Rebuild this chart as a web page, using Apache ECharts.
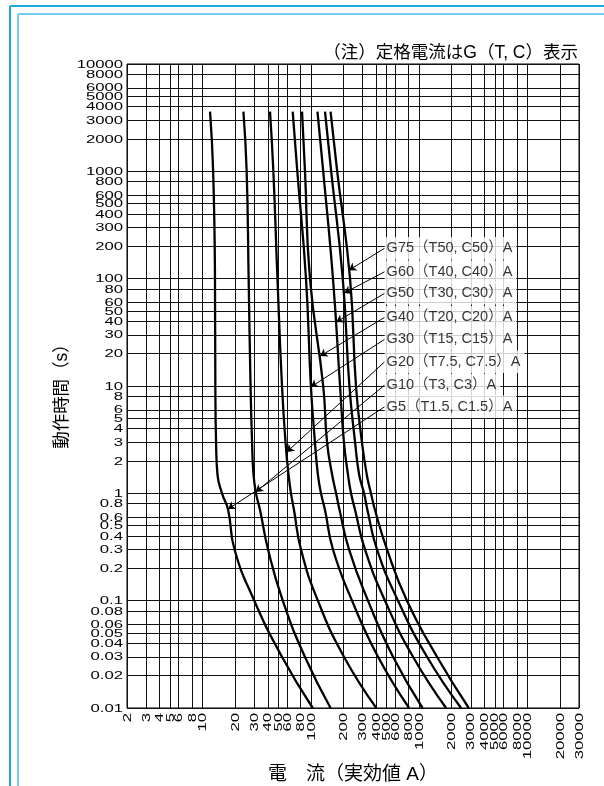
<!DOCTYPE html>
<html>
<head>
<meta charset="utf-8">
<script src="https://cdn.jsdelivr.net/npm/echarts@6/dist/echarts.min.js"></script>
<style>
  html, body { margin: 0; padding: 0; background: #fff; }
  #main { width: 604px; height: 786px; }
</style>
</head>
<body>
<div id="main"></div>
<script>
// Fuse time-current characteristics (log-log)

// Tick labels
const xTickLabels = ['2','3','4','5','6','8','10','20','30','40','50','60','80','100',
  '200','300','400','500','600','800','1000','2000','3000','4000','5000','6000','8000','10000',
  '20000','30000'];
const yTickLabels = ['0.01','0.02','0.03','0.04','0.05','0.06','0.08','0.1','0.2','0.3','0.4',
  '0.5','0.6','0.8','1','2','3','4','5','6','8','10','20','30','40','50','60','80','100',
  '200','300','400','500','600','800','1000','2000','3000','4000','5000','6000','8000','10000'];

// Operating time (s) at which each curve's current is given
const times = [3600, 1000, 100, 10, 3, 1.5, 1, 0.7, 0.3, 0.1, 0.03, 0.01];

// Current (A, rms) per fuse rating at the times above
const g5  = [11.7, 12.5, 13.0, 13.1, 13.3, 13.7, 15.1, 17.2, 19.7, 30, 54, 104];
const g10 = [23.8, 25.5, 26.6, 27.7, 28.6, 29.5, 31.1, 33.9, 40.2, 55, 88, 152];
const g20 = [41.9, 45.0, 49.1, 54.1, 58.3, 62.1, 65.5, 69.8, 81, 116, 202, 402];
const g30 = [67.9, 74.9, 90.1, 100, 109, 116, 124, 135, 160, 240, 417, 808];
const g40 = [82.8, 88.2, 98.1, 130, 141, 157, 171, 184, 225, 337, 574, 1076];
const g50 = [115, 130, 160, 186, 202, 220, 235, 256, 316, 484, 878, 1775];
const g60 = [135, 154, 197, 227, 256, 279, 310, 333, 408, 638, 1182, 2442];
const g75 = [152, 175, 230, 261, 296, 328, 359, 391, 505, 772, 1462, 2876];

// Curve annotations (top to bottom)
const ratingLabels = ['G75（T50, C50）A', 'G60（T40, C40）A', 'G50（T30, C30）A', 'G40（T20, C20）A',
  'G30（T15, C15）A', 'G20（T7.5, C7.5）A', 'G10（T3, C3）A', 'G5（T1.5, C1.5）A'];
const labelCurrent = 480;
const labelTimes = [192, 116, 73, 43.6, 27.2, 16.8, 10.2, 6.4];
const tipCurrents = [225, 203, 172, 122, 100, 60, 31, 17.2];
const tipTimes = [120, 73.5, 39.5, 19, 9.8, 2.43, 1.03, 0.714];

const curves = [g5, g10, g20, g30, g40, g50, g60, g75];
const curveNames = ['G5', 'G10', 'G20', 'G30', 'G40', 'G50', 'G60', 'G75'];

const NUM_FONT = '11.5px "Liberation Sans", Arial, sans-serif';
const TEXT_FONT = '"Liberation Sans", "Noto Sans CJK JP", sans-serif';
const X_MIN = 2, X_MAX = 30000, Y_MIN = 0.01, Y_MAX = 10000;

const chart = echarts.init(document.getElementById('main'), null, { renderer: 'canvas' });

const curveSeries = curves.map((vals, k) => ({
  name: curveNames[k],
  type: 'line',
  data: vals.map((c, i) => [c, times[i]]),
  showSymbol: false,
  smooth: 0.5,
  lineStyle: { color: '#000', width: 2.3 },
  z: 3,
  silent: true
}));

const option = {
  animation: false,
  backgroundColor: '#fff',
  grid: { left: 127, top: 64, width: 452, height: 644, show: true,
          borderColor: '#000', borderWidth: 1, backgroundColor: 'transparent' },
  xAxis: {
    type: 'log', logBase: 10, min: X_MIN, max: X_MAX,
    axisLine: { show: false },
    axisTick: { show: false, customValues: xTickLabels.map(Number) },
    axisLabel: { show: false, customValues: xTickLabels.map(Number) },
    splitLine: { show: true, lineStyle: { color: '#111', width: 1 } },
    minorSplitLine: { show: false }
  },
  yAxis: {
    type: 'log', logBase: 10, min: Y_MIN, max: Y_MAX,
    axisLine: { show: false },
    axisTick: { show: false, customValues: yTickLabels.map(Number) },
    axisLabel: { show: false, customValues: yTickLabels.map(Number) },
    splitLine: { show: true, lineStyle: { color: '#111', width: 1 } },
    minorSplitLine: { show: false }
  },
  series: [
    ...curveSeries,
    {
      type: 'lines',
      coordinateSystem: 'cartesian2d',
      data: labelTimes.map((t, i) => ({ coords: [[labelCurrent, t], [tipCurrents[i], tipTimes[i]]] })),
      symbol: ['none', 'arrow'],
      symbolSize: 7,
      lineStyle: { color: '#000', width: 1, opacity: 1, curveness: 0 },
      z: 4,
      silent: true
    },
    {
      type: 'scatter',
      data: labelTimes.map((t, i) => [labelCurrent, t, ratingLabels[i]]),
      symbolSize: 0,
      label: {
        show: true, position: 'right', distance: 0,
        formatter: p => p.data[2],
        color: '#000', fontSize: 14.5, fontFamily: TEXT_FONT,
        backgroundColor: '#fff', padding: [4, 4, 4, 2]
      },
      z: 5,
      silent: true
    },
    {
      // y tick labels
      type: 'custom',
      clip: false,
      silent: true,
      data: yTickLabels.map(s => [X_MIN, Number(s)]),
      renderItem: (params, api) => {
        const p = api.coord([api.value(0), api.value(1)]);
        return {
          type: 'text', x: p[0] - 4, y: p[1] + 0.5, scaleX: 1.45,
          style: { text: yTickLabels[params.dataIndex], font: NUM_FONT,
                   align: 'right', verticalAlign: 'middle', fill: '#000' }
        };
      }
    },
    {
      // x tick labels, rotated
      type: 'custom',
      clip: false,
      silent: true,
      data: xTickLabels.map(s => [Number(s), Y_MIN]),
      renderItem: (params, api) => {
        const p = api.coord([api.value(0), api.value(1)]);
        return {
          type: 'text', x: p[0] + 0.5, y: p[1] + 5, rotation: Math.PI / 2, scaleX: 1.45,
          style: { text: xTickLabels[params.dataIndex], font: NUM_FONT,
                   align: 'right', verticalAlign: 'middle', fill: '#000' }
        };
      }
    }
  ],
  graphic: [
    { type: 'line', silent: true, shape: { x1: 10, y1: 6, x2: 604, y2: 6 },
      style: { stroke: '#1ea8e0', lineWidth: 2 } },
    { type: 'line', silent: true, shape: { x1: 10, y1: 6, x2: 10, y2: 786 },
      style: { stroke: '#1ea8e0', lineWidth: 2 } },
    { type: 'line', silent: true, shape: { x1: 18, y1: 14, x2: 604, y2: 14 },
      style: { stroke: '#74cdf2', lineWidth: 2 } },
    { type: 'line', silent: true, shape: { x1: 18, y1: 14, x2: 18, y2: 786 },
      style: { stroke: '#74cdf2', lineWidth: 2 } },
    { type: 'text', silent: true, x: 578, y: 53,
      style: { text: '（注）定格電流はG（T, C）表示', font: '17.5px ' + TEXT_FONT,
               align: 'right', verticalAlign: 'middle', fill: '#000' } },
    { type: 'text', silent: true, x: 268, y: 775,
      style: { text: '電　流（実効値 A）', font: '19px ' + TEXT_FONT,
               align: 'left', verticalAlign: 'middle', fill: '#000' } },
    { type: 'text', silent: true, x: 62, y: 392, rotation: Math.PI / 2,
      style: { text: '動作時間（s）', font: '17.5px ' + TEXT_FONT,
               align: 'center', verticalAlign: 'middle', fill: '#000' } }
  ]
};

chart.setOption(option);
</script>
</body>
</html>
